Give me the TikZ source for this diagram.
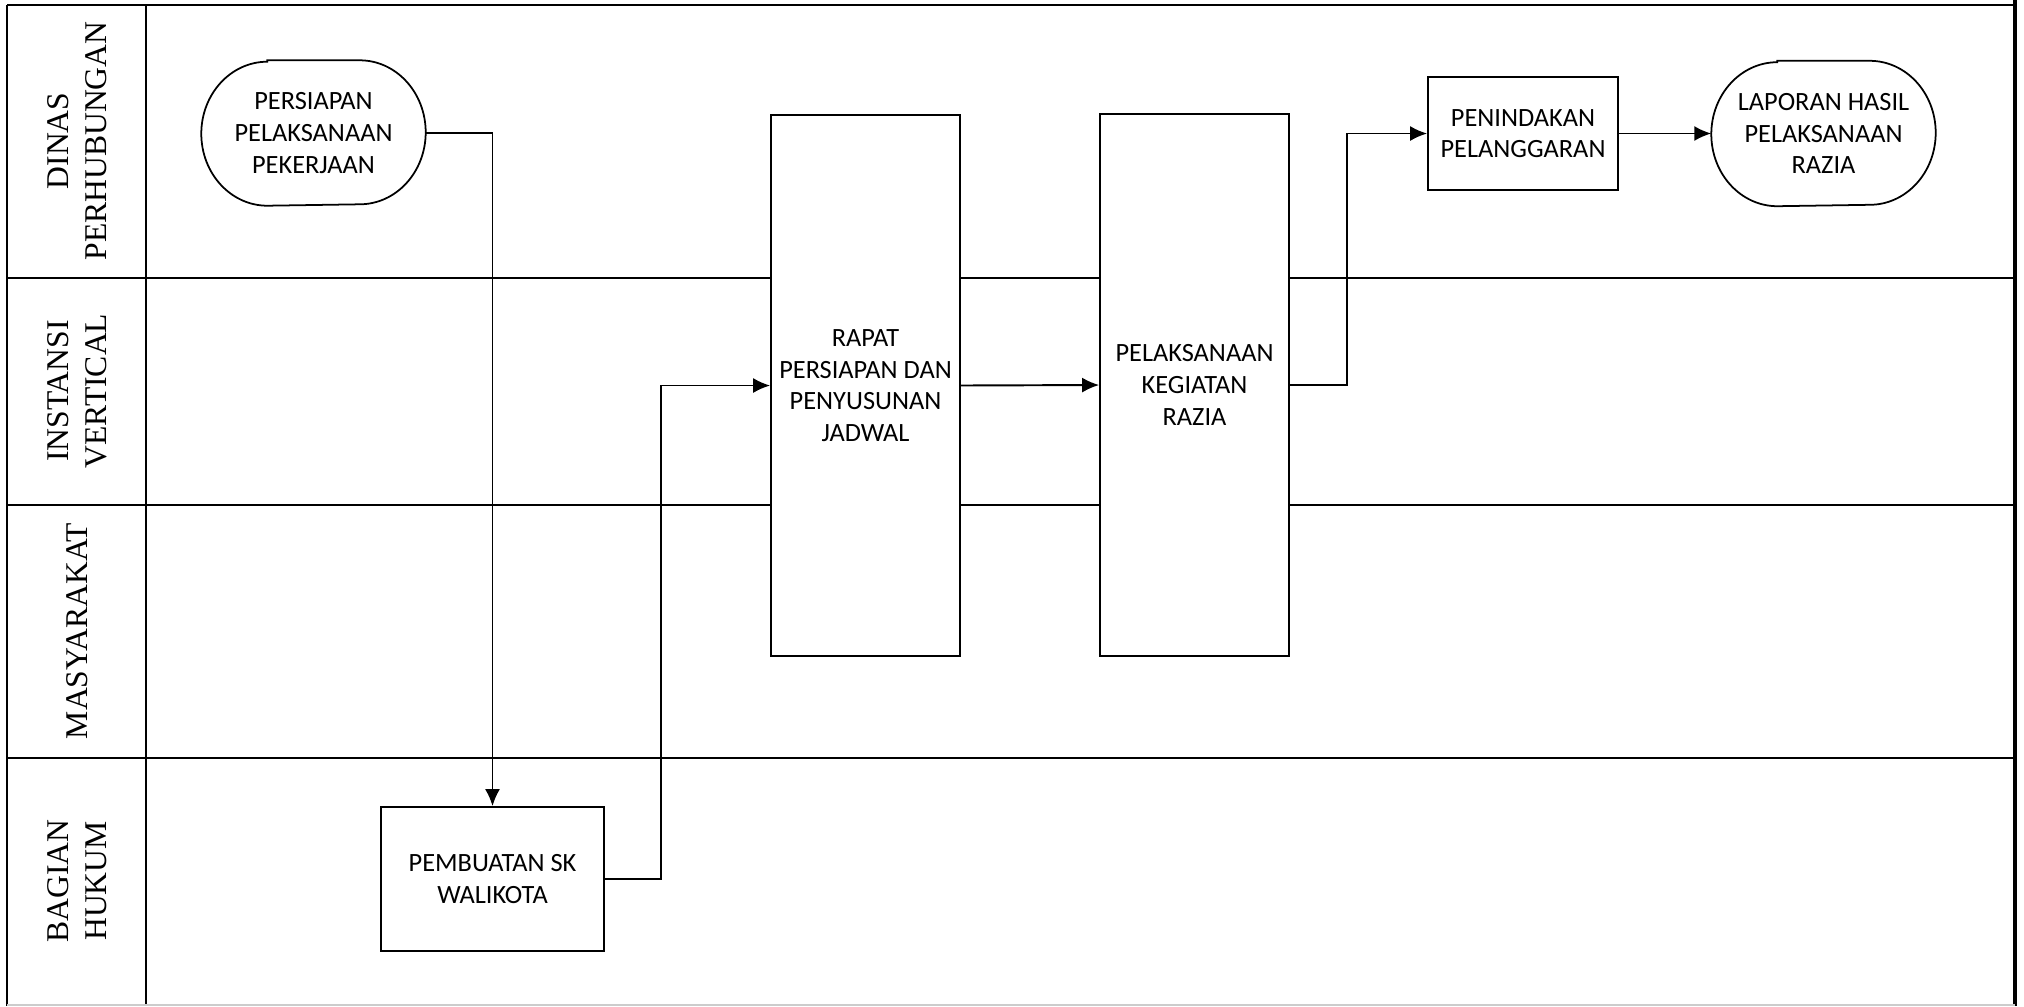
\documentclass[tikz,border=0pt]{standalone}
\usepackage{fontspec}
\setmainfont{Liberation Serif}
\newfontfamily\boxfont{Carlito}
\usetikzlibrary{arrows.meta}

% outline of a terminal node with elliptical ends
\newcommand{\ujung}[1]{%
  \draw[line width=0.5pt] ([xshift=6.6mm]#1.north west) -- ([xshift=-6.6mm]#1.north east)
    arc[start angle=90, end angle=-90, x radius=6.6mm, y radius=7.2mm]
    -- ([xshift=6.6mm]#1.south west)
    arc[start angle=270, end angle=90, x radius=6.6mm, y radius=7.2mm] -- cycle;}

\begin{document}
\begin{tikzpicture}[
    x=0.1mm, y=-0.1mm,
    lane/.style={line width=0.55pt},
    lanename/.style={rotate=90, align=center, inner sep=0pt, font=\fontsize{9}{10.9}\selectfont},
    proses/.style={rectangle, draw, line width=0.5pt, fill=white, align=center, inner sep=0pt, font=\boxfont\fontsize{7.5}{9}\selectfont},
    terminal/.style={rectangle, align=center, inner sep=0pt, minimum width=22.3mm, minimum height=14.4mm, font=\boxfont\fontsize{7.5}{9}\selectfont},
    alur/.style={line width=0.55pt, -{Latex[length=1.7mm,width=1.5mm]}}
]
\useasboundingbox (0,0) rectangle (2024,1006);

% Swimlane frame
\draw[lane] (7,5) -- (2015,5);
\draw[line width=0.8pt] (7,5) -- (7,1006);
\draw[lane] (146,5) -- (146,1006);
\draw[line width=1.1pt] (2015,0) -- (2015,1006);
\foreach \y in {278,505,758} \draw[lane] (7,\y) -- (2015,\y);
\draw[gray!40, line width=0.4pt] (7,1005) -- (2015,1005);

% Lane names
\node[lanename] (dishub) at (77,141) {DINAS\\PERHUBUNGAN};
\node[lanename] (instansi) at (77,391) {INSTANSI\\VERTICAL};
\node[lanename] (masyarakat) at (77,631) {MASYARAKAT};
\node[lanename] (hukum) at (77,881) {BAGIAN\\HUKUM};

% Activities
\node[terminal] (persiapan) at (313.5,133) {PERSIAPAN\\PELAKSANAAN\\PEKERJAAN};
\ujung{persiapan}
\node[proses, minimum width=22.3mm, minimum height=14.4mm] (sk) at (492.5,879) {PEMBUATAN SK\\WALIKOTA};
\node[proses, minimum width=18.9mm, minimum height=54.1mm] (rapat) at (865.5,385.5) {RAPAT\\PERSIAPAN DAN\\PENYUSUNAN\\JADWAL};
\node[proses, minimum width=18.9mm, minimum height=54.2mm] (razia) at (1194.5,385) {PELAKSANAAN\\KEGIATAN\\RAZIA};
\node[proses, minimum width=19mm, minimum height=11.3mm] (penindakan) at (1523,133.5) {PENINDAKAN\\PELANGGARAN};
\node[terminal] (laporan) at (1823.5,133.5) {LAPORAN HASIL\\PELAKSANAAN\\RAZIA};
\ujung{laporan}

% Flow
\draw[alur] (persiapan.east) -| (sk.north);
\draw[alur] (sk.east) -- ++(56,0) |- (rapat.west);
\draw[alur] (rapat.east) -- (razia.west);
\draw[alur] (razia.east) -- ++(57,0) |- (penindakan.west);
\draw[alur] (penindakan.east) -- (laporan.west);
\end{tikzpicture}
\end{document}
